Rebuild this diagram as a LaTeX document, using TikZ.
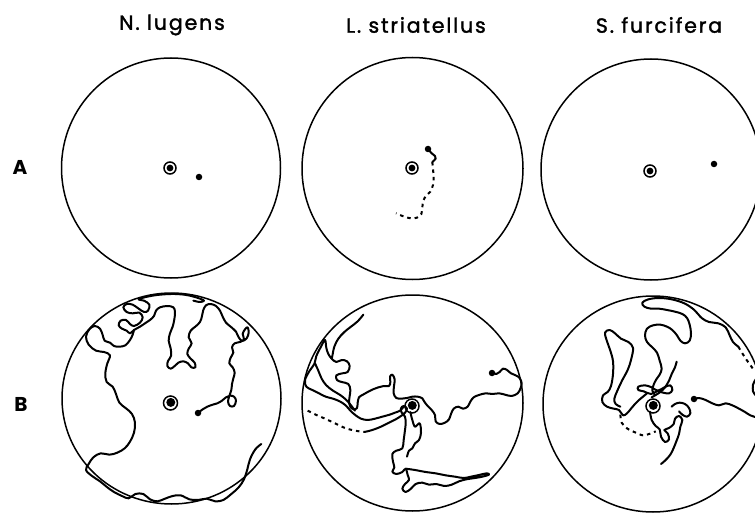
\documentclass[tikz,border=0pt]{standalone}
\usepackage{fontspec}
\setmainfont{Poppins}
\newfontfamily\titlefont[LetterSpace=9,FakeBold=1.6]{Poppins}
\begin{document}
\begin{tikzpicture}[x=1pt,y=-1pt,
  arena/.style={line width=1.5pt},
  track/.style={line width=2pt,line cap=round,line join=round},
  dtrack/.style={line width=2pt,dash pattern=on 3.5pt off 4pt},
  spot/.style={circle,fill=black,inner sep=0pt,minimum size=6.5pt},
  ttl/.style={font=\titlefont\fontsize{20.5}{22}\selectfont},
  rowlbl/.style={font=\bfseries\fontsize{20}{20}\selectfont}]
\useasboundingbox (0,0) rectangle (755,513);
\clip (0,0) rectangle (755,513);
% titles
\node[ttl] (t1) at (172,25) {N. lugens};
\node[ttl] (t2) at (416,25) {L. striatellus};
\node[ttl] (t3) at (659,25) {S. furcifera};
\node[rowlbl] (la) at (20,167) {A};
\node[rowlbl] (lb) at (21,404) {B};
% arenas
\draw[arena] (171,168) ellipse [x radius=109.5,y radius=110];
\draw[arena] (412.5,168.5) ellipse [x radius=110.5,y radius=111];
\draw[arena] (651,169.5) ellipse [x radius=110,y radius=110.5];
\draw[arena] (171.5,398.5) ellipse [x radius=109.5,y radius=105.5];
\draw[arena] (412.5,403) ellipse [x radius=110.5,y radius=108];
\draw[arena] (653,404) ellipse [x radius=110,y radius=108];
% centre markers, row A
\foreach \n/\x/\y in {ca1/170/168, ca2/412/168, ca3/650/171}{
  \draw[line width=1.5pt] (\x,\y) circle (6);
  \fill (\x,\y) circle (3.4);
}
% centre markers, row B
\foreach \n/\x/\y in {cb1/170.5/403, cb2/412/406, cb3/653/406}{
  \draw[line width=1.5pt] (\x,\y) circle (7);
  \fill (\x+0.3,\y-0.6) circle (4.5);
}
% start spots
\node[spot] (sa1) at (199,177) {};
\node[spot] (sa2) at (428,149) {};
\node[spot] (sa3) at (714,164) {};
\node[spot] (sb1) at (198,413) {};
\node[spot] (sb2) at (492,373) {};
\node[spot] (sb3) at (694,399) {};
% ---- A2 track
\begin{scope}[shift={(295,50)},scale=1/3]
\draw[track] plot[smooth] coordinates {(400,298) (410,310) (420,318) (422,326) (412,336)};
\draw[dtrack] plot[smooth] coordinates {(412,336) (414,358) (416,382) (414,405) (406,425) (394,436) (385,452) (382,472) (379,492) (366,503) (348,505) (328,500) (303,490)};
\end{scope}
% ---- B1 tracks
\begin{scope}[shift={(60,280)},scale=1/3]
\draw[track] plot[smooth,tension=0.6] coordinates {(415,398) (428,388) (442,380) (458,374) (472,370) (486,362) (498,352) (510,347) (522,350) (528,362) (522,378) (510,378) (504,365) (508,348) (514,330) (516,312) (520,295) (524,278) (518,262) (508,250) (512,233) (520,218) (516,202) (524,190) (540,186) (552,178) (548,162) (555,148) (563,142) (566,158) (560,175) (546,183) (535,170) (528,155) (512,140) (498,128) (488,110) (480,92) (468,78) (452,72) (438,76) (430,90) (426,108) (420,126) (406,140) (392,152) (386,172) (395,190) (386,206) (382,222) (392,236) (404,248) (406,262) (394,262) (384,250) (370,244) (355,248) (344,258) (332,266) (322,258) (324,243) (333,228) (332,205) (326,182) (330,160) (338,140) (343,118) (345,96) (340,82) (322,78) (300,82) (288,92) (282,108) (270,120) (258,128) (240,140) (222,150) (210,160) (200,152) (186,146) (176,136) (182,122) (198,120) (210,132) (222,138) (240,128) (248,112) (238,98) (218,100) (200,96) (190,82) (200,72) (218,74) (236,86) (252,96) (264,92) (268,74) (252,62) (236,58) (262,50) (300,44) (345,42) (385,46) (420,56) (432,62) (420,66) (400,62)};
\draw[track] plot[smooth,tension=0.6] coordinates {(222,150) (218,164) (210,180) (196,196) (178,200) (162,198) (150,188) (134,182) (128,165) (120,146) (104,138) (88,148) (78,170) (86,194) (108,212) (132,216) (150,226) (142,250) (136,280) (140,306) (158,320) (168,342) (178,368) (198,385) (216,402) (225,428) (222,458) (210,485) (194,505) (172,518) (148,524) (122,520) (100,532) (86,552) (78,570) (96,588) (120,604) (142,622) (162,636) (186,648) (206,655) (226,642) (250,642) (270,658) (292,664) (315,656) (338,648) (362,646) (388,658) (414,660) (440,656) (466,664) (490,660) (514,642) (536,622) (552,598) (562,568) (570,538) (586,508) (604,492)};
\end{scope}
% ---- B2 tracks
\begin{scope}[shift={(295,280)},scale=1/3]
\draw[track] plot[smooth,tension=0.6] coordinates {(592,278) (604,282) (614,276) (624,266) (636,270) (648,280) (662,286) (674,294) (680,310) (676,326) (668,340) (650,348) (630,344) (612,340) (592,342) (572,340) (552,345) (536,352) (526,365) (518,380) (504,386) (490,380) (476,386) (468,402) (462,418) (450,428) (434,432) (422,424) (420,405) (410,390) (398,378) (388,365) (382,355) (368,350) (352,350) (336,354) (320,356) (304,354) (296,340) (297,318) (299,298) (292,284) (285,290) (286,306) (282,318) (266,318) (250,322) (234,328) (218,336) (204,344) (192,352) (188,368) (186,384) (176,388) (166,380) (162,364) (164,348) (166,330) (160,312) (140,306) (126,300) (124,286) (142,280) (158,276) (164,258) (156,244) (140,240) (124,246) (110,236) (100,222) (94,204) (90,180) (78,200) (64,228) (58,252) (44,272) (30,300) (34,320) (52,330) (72,340) (92,350) (114,356) (134,364) (152,376) (166,392) (182,406) (198,416) (218,420) (240,416) (262,410) (284,404) (300,398) (315,392) (326,380)};
\draw[track] plot[smooth,tension=0.6] coordinates {(205,104) (188,124) (168,140) (148,156) (130,176) (118,200) (112,228) (110,236)};
\draw[track] plot[smooth,tension=0.6] coordinates {(60,250) (70,272) (80,296) (94,316) (114,332) (134,344) (152,358) (168,376) (180,392)};
\draw[dtrack] plot[smooth] coordinates {(38,392) (62,404) (90,416) (120,430) (150,444) (180,452) (208,456)};
\draw[track] plot[smooth,tension=0.6] coordinates {(208,456) (232,450) (258,440) (282,428) (302,418) (318,408) (330,398) (336,386) (326,378) (318,385) (320,398) (330,410) (332,430) (330,450) (326,480) (322,505) (304,512) (292,522) (294,545) (298,562) (292,575) (304,582) (322,576) (332,566) (338,585) (342,600) (330,612) (322,626) (332,636) (348,626) (362,612) (382,608) (402,614) (424,612) (448,618) (470,614) (492,604) (514,598) (540,594) (562,590) (582,584) (575,580) (552,585) (528,590) (506,594) (480,590) (452,586) (422,580) (392,576) (360,570) (332,566)};
\draw[track] plot[smooth,tension=0.6] coordinates {(346,396) (352,420) (360,440) (374,430) (378,458) (372,480) (360,490) (352,505) (342,512) (336,530)};
\end{scope}
% ---- B3 tracks
\begin{scope}[shift={(525,280)},scale=1/3]
\draw[track] plot[smooth,tension=0.6] coordinates {(390,345) (382,332) (386,314) (394,298) (404,284) (410,266) (404,242) (396,218) (382,202) (366,186) (360,166) (366,146) (384,136) (406,134) (426,140) (442,150) (456,166) (466,182) (480,190) (494,182) (498,160) (494,134) (486,114) (472,102) (450,95) (426,90) (402,86) (378,86) (358,80) (352,68) (370,58) (402,54) (440,58) (478,70) (508,90) (530,114) (552,126) (580,130) (602,142) (614,166) (624,186) (640,200)};
\draw[dtrack] plot[smooth] coordinates {(640,200) (652,220) (665,240) (678,258) (688,272)};
\draw[track] plot[smooth] coordinates {(692,298) (684,314) (684,334) (692,346)};
\draw[track] plot[smooth,tension=0.6] coordinates {(366,340) (354,350) (342,360) (330,372) (318,386) (306,400) (294,406) (282,390) (266,386) (246,380) (232,366) (234,346) (248,336) (258,318) (264,282) (264,244) (256,212) (246,184) (240,158) (254,150) (270,160) (288,176) (310,186) (324,204) (318,240) (308,270) (292,300) (278,330) (268,356) (272,372) (286,380)};
\draw[track] plot[smooth cycle,tension=0.6] coordinates {(340,320) (360,316) (380,322) (398,332) (418,322) (436,316) (442,330) (432,340) (414,338) (396,334) (378,342) (356,334) (340,330)};
\draw[track] plot[smooth,tension=0.6] coordinates {(455,245) (450,262) (440,282) (432,302) (420,322) (406,336) (392,345) (380,352)};
\draw[track] plot[smooth,tension=0.6] coordinates {(508,357) (522,354) (542,360) (562,370) (582,376) (602,370) (622,376) (642,386) (660,396) (676,406) (694,412)};
\draw[track] plot[smooth,tension=0.6] coordinates {(375,395) (380,420) (392,438) (404,448) (408,470) (420,486) (432,478) (428,460) (418,450) (432,444) (446,432) (450,416) (462,408) (472,420) (466,440) (462,462) (454,484) (446,504) (436,524) (420,542) (408,552)};
\draw[track] plot[smooth,tension=0.6] coordinates {(440,380) (450,372) (464,368) (480,372) (492,384) (496,400) (486,410) (472,404) (462,394)};
\draw[dtrack] plot[smooth] coordinates {(286,404) (290,428) (306,445) (330,457) (354,466) (378,460) (392,454)};
\end{scope}
\end{tikzpicture}
\end{document}
